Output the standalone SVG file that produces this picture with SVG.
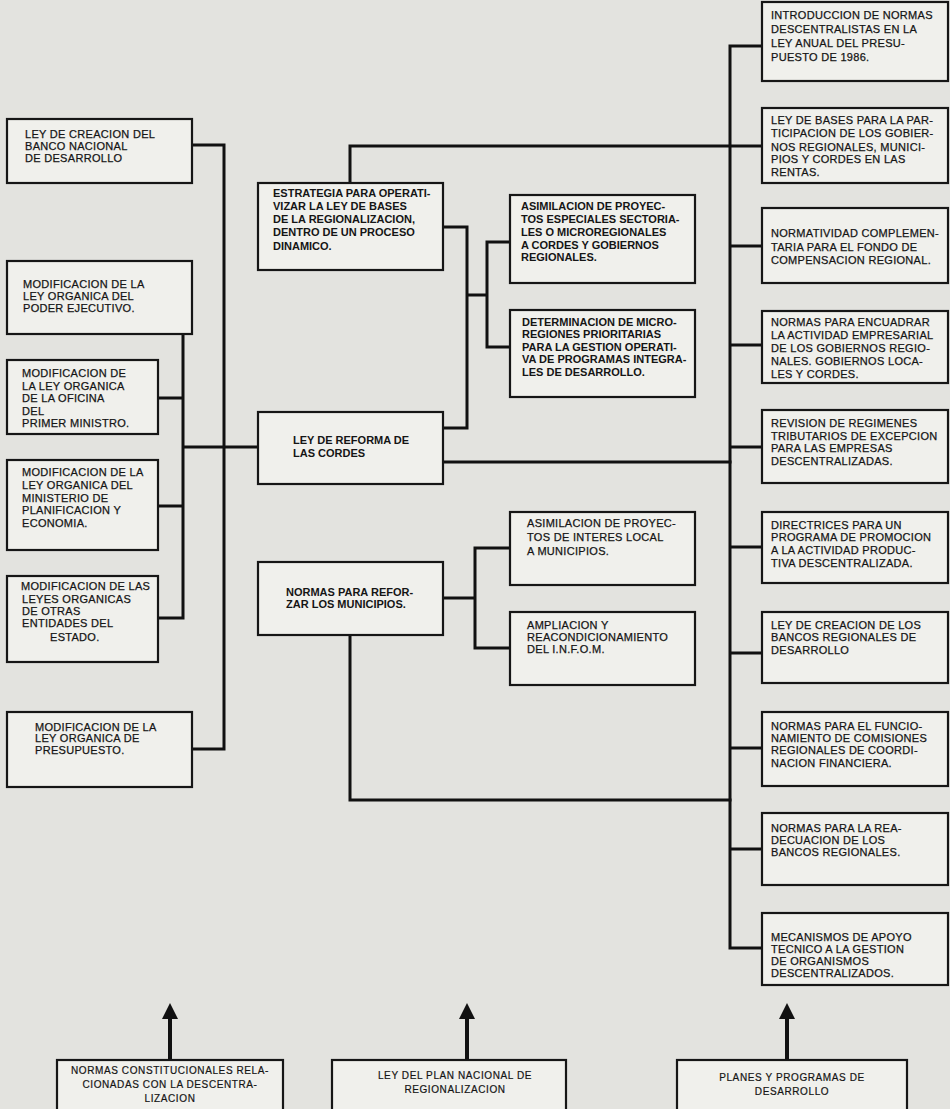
<svg xmlns="http://www.w3.org/2000/svg" width="950" height="1109" viewBox="0 0 950 1109">
<defs>
<style>
.bg{fill:#e3e3df}
.box{fill:#f0f0ec;stroke:#161616;stroke-width:2.2}
.t{font-family:"Liberation Sans",Arial,sans-serif;font-size:11px;fill:#151515;stroke:#151515;stroke-width:0.25;letter-spacing:0.3px}
.tb{font-family:"Liberation Sans",Arial,sans-serif;font-size:11px;font-weight:bold;fill:#151515}
.ts{font-family:"Liberation Sans",Arial,sans-serif;font-size:10px;fill:#151515;stroke:#151515;stroke-width:0.2;letter-spacing:0.6px}
.c{stroke:#111;stroke-width:3;fill:none;stroke-linecap:square}
.ar{fill:#111}
</style>
</defs>
<rect class="bg" x="0" y="0" width="950" height="1109"/>

<g id="connectors">
<path class="c" d="M192 145H224V749H192"/>
<path class="c" d="M183 334V618M158 398H183M158 506H183M158 618H183M183 447H258"/>
<path class="c" d="M350 183V146H762"/>
<path class="c" d="M443 227H467V428H443M467 295H487M487 242V347M487 242H510M487 347H510"/>
<path class="c" d="M443 462H730"/>
<path class="c" d="M443 598H475M475 548V648M475 548H510M475 648H510"/>
<path class="c" d="M350 635V800H730"/>
<path class="c" d="M730 46V948M730 46H762M730 246H762M730 345H762M730 447H762M730 547H762M730 653H762M730 748H762M730 849H762M730 948H762"/>
<rect class="ar" x="168" y="1016" width="4" height="46"/>
<polygon class="ar" points="170,1003 162,1019 178,1019"/>
<rect class="ar" x="465" y="1016" width="4" height="46"/>
<polygon class="ar" points="467,1003 459,1019 475,1019"/>
<rect class="ar" x="785" y="1016" width="4" height="46"/>
<polygon class="ar" points="787,1003 779,1019 795,1019"/>
</g>

<g id="l1"><rect class="box" x="7" y="119" width="185" height="64"/>
<text class="t" x="25" y="138">LEY DE CREACION DEL</text><text class="t" x="25" y="150">BANCO NACIONAL</text><text class="t" x="25" y="162">DE DESARROLLO</text></g>

<g id="l2"><rect class="box" x="7" y="261" width="185" height="73"/>
<text class="t" x="23" y="288">MODIFICACION DE LA</text><text class="t" x="23" y="300">LEY ORGANICA DEL</text><text class="t" x="23" y="312">PODER EJECUTIVO.</text></g>

<g id="l3"><rect class="box" x="7" y="360" width="151" height="74"/>
<text class="t" x="22" y="377">MODIFICACION DE</text><text class="t" x="22" y="390">LA LEY ORGANICA</text><text class="t" x="22" y="402">DE LA OFICINA</text><text class="t" x="22" y="415">DEL</text><text class="t" x="22" y="427">PRIMER MINISTRO.</text></g>

<g id="l4"><rect class="box" x="7" y="460" width="151" height="90"/>
<text class="t" x="22" y="476">MODIFICACION DE LA</text><text class="t" x="22" y="489">LEY ORGANICA DEL</text><text class="t" x="22" y="502">MINISTERIO DE</text><text class="t" x="22" y="514">PLANIFICACION Y</text><text class="t" x="22" y="527">ECONOMIA.</text></g>

<g id="l5"><rect class="box" x="7" y="576" width="151" height="86"/>
<text class="t" x="21" y="590">MODIFICACION DE LAS</text><text class="t" x="22" y="603">LEYES ORGANICAS</text><text class="t" x="22" y="615">DE OTRAS</text><text class="t" x="22" y="627">ENTIDADES DEL</text><text class="t" x="50" y="641">ESTADO.</text></g>

<g id="l6"><rect class="box" x="7" y="712" width="185" height="75"/>
<text class="t" x="35" y="731">MODIFICACION DE LA</text><text class="t" x="35" y="742">LEY ORGANICA DE</text><text class="t" x="35" y="754">PRESUPUESTO.</text></g>

<g id="m1"><rect class="box" x="258" y="183" width="185" height="87"/>
<text class="tb" x="273" y="197">ESTRATEGIA PARA OPERATI-</text><text class="tb" x="273" y="210">VIZAR LA LEY DE BASES</text><text class="tb" x="273" y="223">DE LA REGIONALIZACION,</text><text class="tb" x="273" y="236">DENTRO DE UN PROCESO</text><text class="tb" x="273" y="250">DINAMICO.</text></g>

<g id="m2"><rect class="box" x="258" y="412" width="185" height="72"/>
<text class="tb" x="293" y="444">LEY DE REFORMA DE</text><text class="tb" x="293" y="457">LAS CORDES</text></g>

<g id="m3"><rect class="box" x="258" y="562" width="185" height="73"/>
<text class="tb" x="286" y="596">NORMAS PARA REFOR-</text><text class="tb" x="286" y="608">ZAR LOS MUNICIPIOS.</text></g>

<g id="a1"><rect class="box" x="510" y="195" width="185" height="88"/>
<text class="tb" x="521" y="210">ASIMILACION DE PROYEC-</text><text class="tb" x="521" y="223">TOS ESPECIALES SECTORIA-</text><text class="tb" x="521" y="236">LES O MICROREGIONALES</text><text class="tb" x="521" y="249">A CORDES Y GOBIERNOS</text><text class="tb" x="521" y="261">REGIONALES.</text></g>

<g id="a2"><rect class="box" x="510" y="310" width="185" height="87"/>
<text class="tb" x="522" y="326">DETERMINACION DE MICRO-</text><text class="tb" x="522" y="338">REGIONES PRIORITARIAS</text><text class="tb" x="522" y="351">PARA LA GESTION OPERATI-</text><text class="tb" x="522" y="363">VA DE PROGRAMAS INTEGRA-</text><text class="tb" x="522" y="376">LES DE DESARROLLO.</text></g>

<g id="a3"><rect class="box" x="510" y="512" width="185" height="73"/>
<text class="t" x="527" y="527">ASIMILACION DE PROYEC-</text><text class="t" x="527" y="541">TOS DE INTERES LOCAL</text><text class="t" x="527" y="555">A MUNICIPIOS.</text></g>

<g id="a4"><rect class="box" x="510" y="612" width="185" height="73"/>
<text class="t" x="527" y="629">AMPLIACION Y</text><text class="t" x="527" y="641">REACONDICIONAMIENTO</text><text class="t" x="527" y="653">DEL I.N.F.O.M.</text></g>

<g id="r1"><rect class="box" x="762" y="2" width="186" height="79"/>
<text class="t" x="771" y="19">INTRODUCCION DE NORMAS</text><text class="t" x="771" y="33">DESCENTRALISTAS EN LA</text><text class="t" x="771" y="47">LEY ANUAL DEL PRESU-</text><text class="t" x="771" y="61">PUESTO DE 1986.</text></g>

<g id="r2"><rect class="box" x="762" y="108" width="186" height="75"/>
<text class="t" x="771" y="124">LEY DE BASES PARA LA PAR-</text><text class="t" x="771" y="137">TICIPACION DE LOS GOBIER-</text><text class="t" x="771" y="151">NOS REGIONALES, MUNICI-</text><text class="t" x="771" y="163">PIOS Y CORDES EN LAS</text><text class="t" x="771" y="176">RENTAS.</text></g>

<g id="r3"><rect class="box" x="762" y="208" width="186" height="75"/>
<text class="t" x="771" y="237">NORMATIVIDAD COMPLEMEN-</text><text class="t" x="771" y="251">TARIA PARA EL FONDO DE</text><text class="t" x="771" y="264">COMPENSACION REGIONAL.</text></g>

<g id="r4"><rect class="box" x="762" y="311" width="186" height="72"/>
<text class="t" x="771" y="326">NORMAS PARA ENCUADRAR</text><text class="t" x="771" y="339">LA ACTIVIDAD EMPRESARIAL</text><text class="t" x="771" y="352">DE LOS GOBIERNOS REGIO-</text><text class="t" x="771" y="365">NALES. GOBIERNOS LOCA-</text><text class="t" x="771" y="378">LES Y CORDES.</text></g>

<g id="r5"><rect class="box" x="762" y="410" width="186" height="73"/>
<text class="t" x="771" y="427">REVISION DE REGIMENES</text><text class="t" x="771" y="440">TRIBUTARIOS DE EXCEPCION</text><text class="t" x="771" y="452">PARA LAS EMPRESAS</text><text class="t" x="771" y="465">DESCENTRALIZADAS.</text></g>

<g id="r6"><rect class="box" x="762" y="512" width="186" height="71"/>
<text class="t" x="771" y="529">DIRECTRICES PARA UN</text><text class="t" x="771" y="541">PROGRAMA DE PROMOCION</text><text class="t" x="771" y="554">A LA ACTIVIDAD PRODUC-</text><text class="t" x="771" y="567">TIVA DESCENTRALIZADA.</text></g>

<g id="r7"><rect class="box" x="762" y="612" width="186" height="71"/>
<text class="t" x="771" y="629">LEY DE CREACION DE LOS</text><text class="t" x="771" y="641">BANCOS REGIONALES DE</text><text class="t" x="771" y="654">DESARROLLO</text></g>

<g id="r8"><rect class="box" x="762" y="712" width="186" height="74"/>
<text class="t" x="771" y="730">NORMAS PARA EL FUNCIO-</text><text class="t" x="771" y="742">NAMIENTO DE COMISIONES</text><text class="t" x="771" y="754">REGIONALES DE COORDI-</text><text class="t" x="771" y="767">NACION FINANCIERA.</text></g>

<g id="r9"><rect class="box" x="762" y="813" width="186" height="72"/>
<text class="t" x="771" y="832">NORMAS PARA LA REA-</text><text class="t" x="771" y="844">DECUACION DE LOS</text><text class="t" x="771" y="856">BANCOS REGIONALES.</text></g>

<g id="r10"><rect class="box" x="762" y="913" width="186" height="72"/>
<text class="t" x="771" y="941">MECANISMOS DE APOYO</text><text class="t" x="771" y="953">TECNICO A LA GESTION</text><text class="t" x="771" y="965">DE ORGANISMOS</text><text class="t" x="771" y="977">DESCENTRALIZADOS.</text></g>

<g id="b1"><rect class="box" x="57" y="1060" width="226" height="60"/>
<text class="ts" x="170" y="1074" text-anchor="middle">NORMAS CONSTITUCIONALES RELA-</text><text class="ts" x="170" y="1088" text-anchor="middle">CIONADAS CON LA DESCENTRA-</text><text class="ts" x="170" y="1102" text-anchor="middle">LIZACION</text></g>

<g id="b2"><rect class="box" x="332" y="1060" width="234" height="60"/>
<text class="ts" x="455" y="1079" text-anchor="middle">LEY DEL PLAN NACIONAL DE</text><text class="ts" x="455" y="1093" text-anchor="middle">REGIONALIZACION</text></g>

<g id="b3"><rect class="box" x="677" y="1060" width="230" height="60"/>
<text class="ts" x="792" y="1081" text-anchor="middle">PLANES Y PROGRAMAS DE</text><text class="ts" x="792" y="1095" text-anchor="middle">DESARROLLO</text></g>
</svg>
